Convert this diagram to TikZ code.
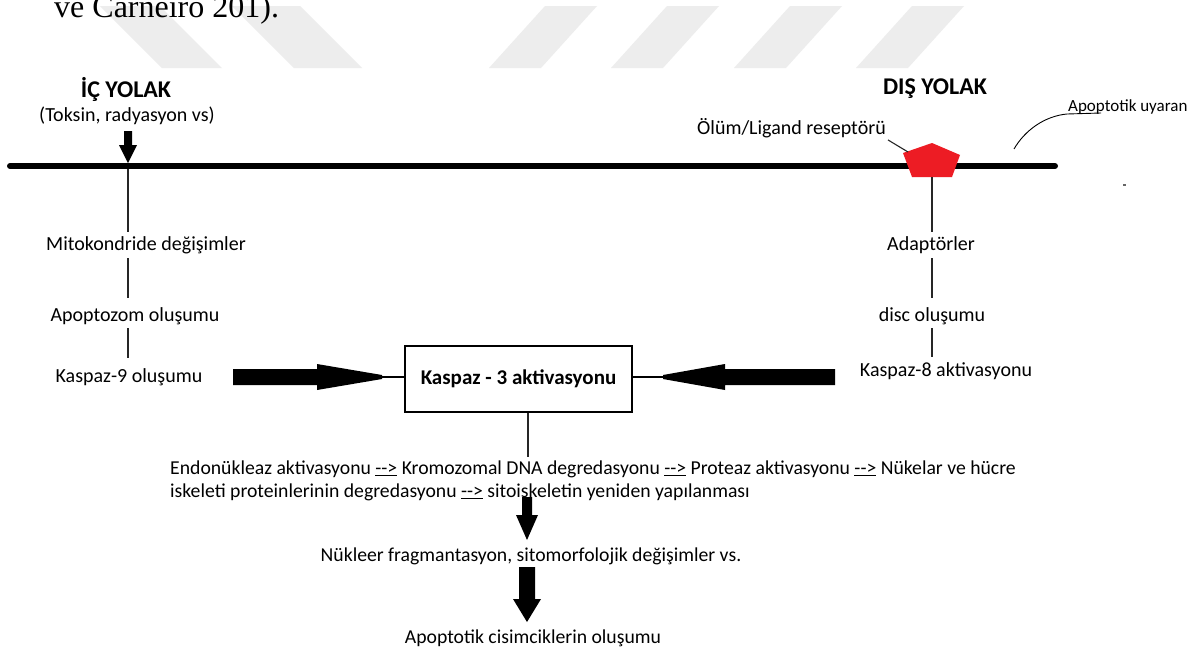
\documentclass[tikz,border=0pt]{standalone}
\usepackage{fontspec}
\setmainfont{Carlito}
\newfontfamily\tnr{Liberation Serif}
\usetikzlibrary{calc}
\definecolor{recred}{RGB}{237,28,36}
\begin{document}
\begin{tikzpicture}[x=1pt,y=-1pt,
  lbl/.style={inner sep=0pt, font=\fontsize{20}{24}\selectfont},
  lowlbl/.style={inner sep=0pt, font=\fontsize{19.7}{24}\selectfont},
  smalllbl/.style={inner sep=0pt, font=\fontsize{17}{20}\selectfont},
  hdr/.style={inner sep=0pt, font=\fontsize{24}{28}\selectfont\bfseries},
  thinln/.style={line width=1.1pt, draw=black!85},
  stripe/.style={fill=black!7},
  fatarrow/.style={fill=black},
]
\useasboundingbox (0,0) rectangle (1194,654);
\fill[white] (0,0) rectangle (1194,654);
% watermark stripes
\fill[stripe] (100,6) -- (160,6) -- (222,68) -- (162,68) -- cycle;
\fill[stripe] (232,6) -- (300,6) -- (362,68) -- (294,68) -- cycle;
\foreach \t in {545,667,790,912}{
  \fill[stripe] (\t,6) -- (\t+52,6) -- (\t-4,68) -- (\t-56,68) -- cycle;
}
% header text fragment
\node[anchor=base west, inner sep=0pt, font=\tnr\fontsize{32}{36}\selectfont] (cite) at (54,17) {ve Carneiro 201).};

% headings
\node[hdr] (ic) at (126,89) {İÇ YOLAK};
\node[lbl] (toksin) at (127,116) {(Toksin, radyasyon vs)};
\node[hdr] (dis) at (935,89) {DIŞ YOLAK};
\node[lbl, anchor=east] (olum) at (886,128) {Ölüm/Ligand reseptörü};
\node[smalllbl, anchor=base west] (uyaran) at (1068,111) {Apoptotik uyaran};

% membrane line
\coordinate (mL) at (10,166);
\coordinate (mR) at (1055,166);
\draw[line width=6pt, line cap=round] (mL) -- (mR);

% intrinsic arrow onto membrane
\coordinate (icA) at (128,131);
\coordinate (icB) at (128,163);
\fill[fatarrow] ($(icA)+(-4,0)$) -- ($(icA)+(4,0)$) -- ($(icA)+(4,14)$) -- ($(icA)+(9,14)$) -- (icB) -- ($(icA)+(-9,14)$) -- ($(icA)+(-4,14)$) -- cycle;

% receptor pentagon
\node[minimum width=57pt, minimum height=34pt, inner sep=0pt] (rec) at (932,160) {};
\fill[recred] (903,153) -- (932,143) -- (960,155) -- (952,177) -- (912,177) -- cycle;
\draw[thinln] ($(olum.south east)+(2,2)$) -- (908,152);

% apoptotic stimulus curve
\coordinate (stimS) at (1014,149);
\draw[line width=0.9pt] (stimS) .. controls (1025,130) and (1045,116) .. (1067,114) -- (1101,113);
\fill[black!60] (1123,184) rectangle (1126,186);

% intrinsic column
\node[lbl] (mito) at (146,245) {Mitokondride değişimler};
\node[lbl] (apop) at (135,316) {Apoptozom oluşumu};
\node[lbl] (k9) at (129,377) {Kaspaz-9 oluşumu};
\coordinate (icT) at (128,169);
\draw[thinln] (icT) -- (128,232);
\draw[thinln] (128,258) -- (128,298);
\draw[thinln] (128,328) -- (128,358);

% extrinsic column
\node[lbl] (adap) at (931,245) {Adaptörler};
\node[lbl] (disc) at (932,316) {disc oluşumu};
\node[lbl] (k8) at (946,371) {Kaspaz-8 aktivasyonu};
\draw[thinln] (rec.south) -- (932,232);
\draw[thinln] (932,258) -- (932,298);
\draw[thinln] (932,328) -- (932,357);

% central box
\node[draw, line width=1.1pt, minimum width=227pt, minimum height=66pt, inner sep=0pt,
      font=\fontsize{21}{25}\selectfont\bfseries] (box) at (518.5,379) {Kaspaz - 3 aktivasyonu};

% fat arrow from left
\coordinate (la) at (233,377);
\fill[fatarrow] ($(la)+(0,-8)$) -- ($(la)+(84,-8)$) -- ($(la)+(84,-13)$) -- ($(la)+(149,-2)$) -- ($(la)+(149,2)$) -- ($(la)+(84,13)$) -- ($(la)+(84,8)$) -- ($(la)+(0,8)$) -- cycle;
\draw[line width=2pt] ($(la)+(148,0)$) -- (box.west |- la);

% fat arrow from right
\coordinate (ra) at (835,377);
\fill[fatarrow] ($(ra)+(0,-8)$) -- ($(ra)+(-110,-8)$) -- ($(ra)+(-110,-13)$) -- ($(ra)+(-172,-2)$) -- ($(ra)+(-172,2)$) -- ($(ra)+(-110,13)$) -- ($(ra)+(-110,8)$) -- ($(ra)+(0,8)$) -- cycle;
\draw[line width=2pt] ($(ra)+(-171,0)$) -- (box.east |- ra);

% lower cascade
\newcommand{\arr}{\underline{-{}->}}
\node[lowlbl, anchor=west] (l1) at (170,469) {Endonükleaz aktivasyonu \arr{} Kromozomal DNA degredasyonu \arr{} Proteaz aktivasyonu \arr{} Nükelar ve hücre};
\node[lowlbl, anchor=west] (l2) at (170,492) {iskeleti proteinlerinin degredasyonu \arr{} sitoiskeletin yeniden yapılanması};
\coordinate (lowT) at (528,457);
\draw[thinln] (box.south -| lowT) -- (lowT);

\coordinate (d1) at (527,497);
\fill[fatarrow] ($(d1)+(-5,0)$) -- ($(d1)+(5,0)$) -- ($(d1)+(5,18)$) -- ($(d1)+(11,18)$) -- ($(d1)+(0,43)$) -- ($(d1)+(-11,18)$) -- ($(d1)+(-5,18)$) -- cycle;
\node[lowlbl] (nuk) at (531,556) {Nükleer fragmantasyon, sitomorfolojik değişimler vs.};

\coordinate (d2) at (527,567);
\fill[fatarrow] ($(d2)+(-8,0)$) -- ($(d2)+(8,0)$) -- ($(d2)+(8,32)$) -- ($(d2)+(14,32)$) -- ($(d2)+(0,55)$) -- ($(d2)+(-14,32)$) -- ($(d2)+(-8,32)$) -- cycle;
\node[lowlbl] (cis) at (533,638) {Apoptotik cisimciklerin oluşumu};
\end{tikzpicture}
\end{document}
